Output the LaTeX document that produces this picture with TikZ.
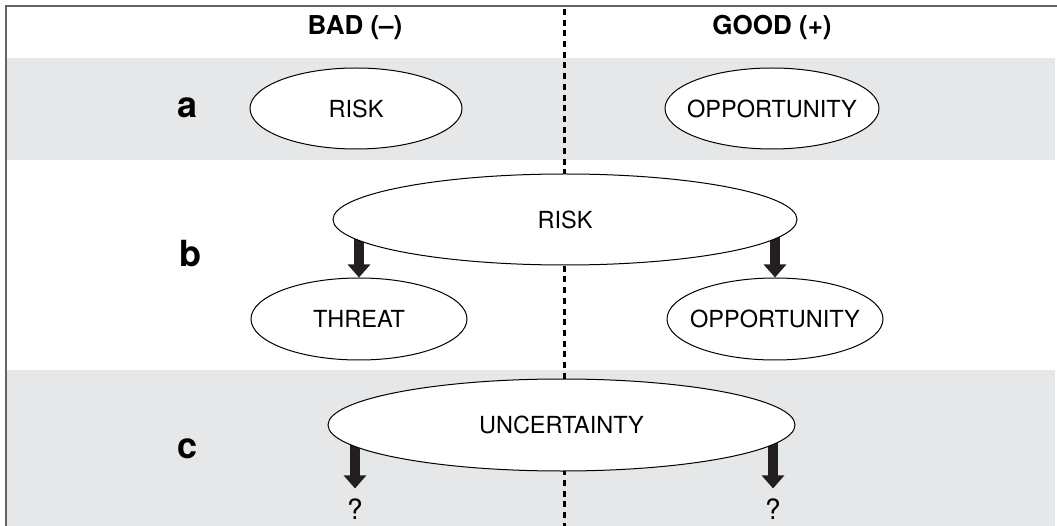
\documentclass[tikz,border=0pt]{standalone}
\usepackage{fontspec}
\setmainfont{TeX Gyre Heros}
\usetikzlibrary{arrows.meta,shapes.geometric}
\definecolor{bandgray}{RGB}{230,231,232}
\definecolor{framegray}{RGB}{100,100,100}
\definecolor{arrowblack}{RGB}{35,31,32}
\pgfdeclarelayer{bg}
\pgfdeclarelayer{mid}
\pgfsetlayers{bg,mid,main}
\newcommand{\ovaltext}[1]{\makebox[0pt]{#1}}

\begin{document}
\begin{tikzpicture}[x=1pt,y=1pt,yscale=-1,
  oval/.style={ellipse,draw,fill=white,line width=1pt,inner sep=0pt,font=\fontsize{23.5}{27}\selectfont},
  colhead/.style={anchor=base,font=\bfseries\fontsize{26}{30}\selectfont},
  rowlabel/.style={anchor=base,font=\bfseries\fontsize{36}{40}\selectfont},
  qmark/.style={inner sep=0pt,font=\fontsize{28}{32}\selectfont},
  fatarrow/.style={draw=arrowblack,line width=10pt,-{Triangle[width=22pt,length=13pt]}}]
\useasboundingbox (0,0) rectangle (1057,526);

%Bands and frame
\begin{pgfonlayer}{bg}
\fill[bandgray] (6,58) rectangle (1055,160);
\fill[bandgray] (6,370) rectangle (1055,526);
\draw[framegray,line width=2.2pt] (5,6) -- (1057,6);
\draw[framegray,line width=1.6pt] (6,6) -- (6,526);
\end{pgfonlayer}

%Divider
\begin{pgfonlayer}{mid}
\draw[black,line width=3pt,dash pattern=on 6pt off 4.7pt] (564,9) -- (564,526);
\end{pgfonlayer}

% Text Node
\node[colhead] (bad) at (355,35) {BAD (–)};
% Text Node
\node[colhead] (good) at (772,35) {GOOD (+)};
% Text Node
\node[rowlabel] (rowa) at (188,118) {a};
% Text Node
\node[rowlabel] (rowb) at (190,267) {b};
% Text Node
\node[rowlabel] (rowc) at (188,458) {c};

%Row a
\node[oval,minimum width=212,minimum height=81] (riska) at (356,108.5) {\ovaltext{RISK}};
\node[oval,minimum width=214,minimum height=81] (oppa) at (772,108.5) {\ovaltext{OPPORTUNITY}};

%Row b
\node[oval,minimum width=464,minimum height=91] (riskb) at (565,219.5) {\ovaltext{RISK}};
\node[oval,minimum width=216,minimum height=82] (threat) at (359,319) {\ovaltext{THREAT}};
\node[oval,minimum width=216,minimum height=82] (oppb) at (775,319) {\ovaltext{OPPORTUNITY}};

%Row c
\node[oval,minimum width=467,minimum height=92] (unc) at (561.5,425) {\ovaltext{UNCERTAINTY}};
\node[qmark] (qbad) at (355,509) {?};
\node[qmark] (qgood) at (773,509) {?};

%Arrows
\begin{pgfonlayer}{mid}
\draw[fatarrow] (threat.north |- riskb.center) -- (threat.north);
\draw[fatarrow] (oppb.north |- riskb.center) -- (oppb.north);
\draw[fatarrow,shorten >=10pt] (qbad |- unc.center) -- (qbad.north);
\draw[fatarrow,shorten >=10pt] (qgood |- unc.center) -- (qgood.north);
\end{pgfonlayer}

\end{tikzpicture}
\end{document}
